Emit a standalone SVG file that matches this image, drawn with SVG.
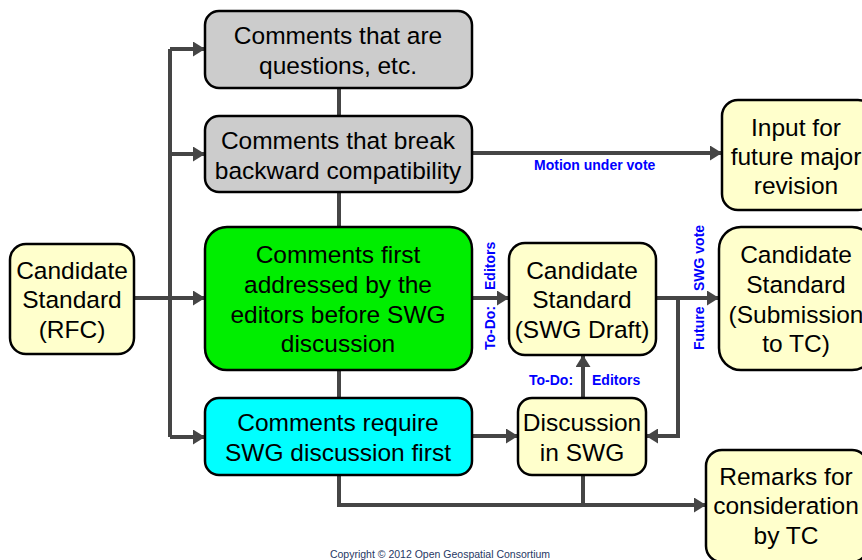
<svg xmlns="http://www.w3.org/2000/svg" width="862" height="560" viewBox="0 0 862 560">
<defs>
<marker id="ah" markerUnits="userSpaceOnUse" viewBox="0 0 12 15" refX="11" refY="7.5" markerWidth="12" markerHeight="15" orient="auto">
<path d="M0,0 L12,7.5 L0,15 z" fill="#454545"/>
</marker>
</defs>
<style>
.box{stroke:#000;stroke-width:2.5}
.gray{fill:#cccccc}
.yel{fill:#ffffcc}
.t{font-family:"Liberation Sans",Arial,sans-serif;font-size:24.5px;fill:#000;text-anchor:middle}
.lbl{font-family:"Liberation Sans",Arial,sans-serif;font-size:14px;font-weight:bold;fill:#0000ff}
.c{fill:none;stroke:#454545;stroke-width:4}
.ca{fill:none;stroke:#454545;stroke-width:4;marker-end:url(#ah)}
</style>
<rect width="862" height="560" fill="#fff"/>
<g id="connectors">
<path class="c" d="M170,49 V437"/>
<path class="ca" d="M170,49 H204"/>
<path class="ca" d="M170,154 H204"/>
<path class="ca" d="M134,298 H204"/>
<path class="ca" d="M170,437 H204"/>
<path class="c" d="M339,88 V116 M339,192 V227 M339,370 V398"/>
<path class="ca" d="M339,475 V505 H705"/>
<path class="c" d="M583,475 V505"/>
<path class="ca" d="M472,153 H721"/>
<path class="ca" d="M472,298 H508"/>
<path class="ca" d="M656,298 H718"/>
<path class="ca" d="M678,298 V436 H647"/>
<path class="ca" d="M472,436 H517"/>
<path class="ca" d="M583,398 V356"/>
<text class="lbl" x="534" y="170">Motion under vote</text>
<text class="lbl" transform="translate(495,290) rotate(-90)">Editors</text>
<text class="lbl" transform="translate(495,350) rotate(-90)">To-Do:</text>
<text class="lbl" transform="translate(704,291) rotate(-90)">SWG vote</text>
<text class="lbl" transform="translate(704,350) rotate(-90)">Future</text>
<text class="lbl" x="529" y="385">To-Do:</text>
<text class="lbl" x="592" y="385">Editors</text>
</g>
<g id="n-questions">
<rect class="box gray" x="205" y="11" width="267" height="77" rx="14"/>
<text class="t" x="338" y="44">Comments that are</text>
<text class="t" x="338" y="74">questions, etc.</text>
</g>
<g id="n-break">
<rect class="box gray" x="205" y="116" width="267" height="76" rx="14"/>
<text class="t" x="338" y="149">Comments that break</text>
<text class="t" x="338" y="179">backward compatibility</text>
</g>
<g id="n-editors">
<rect class="box" fill="#00ee00" x="205" y="227" width="267" height="143" rx="22"/>
<text class="t" x="338" y="263">Comments first</text>
<text class="t" x="338" y="293">addressed by the</text>
<text class="t" x="338" y="323">editors before SWG</text>
<text class="t" x="338" y="352">discussion</text>
</g>
<g id="n-swgdisc">
<rect class="box" fill="#00ffff" x="205" y="398" width="267" height="77" rx="14"/>
<text class="t" x="338" y="431">Comments require</text>
<text class="t" x="338" y="461">SWG discussion first</text>
</g>
<g id="n-rfc">
<rect class="box yel" x="10" y="244" width="124" height="110" rx="16"/>
<text class="t" x="72" y="279">Candidate</text>
<text class="t" x="72" y="308">Standard</text>
<text class="t" x="72" y="338">(RFC)</text>
</g>
<g id="n-draft">
<rect class="box yel" x="509" y="243" width="147" height="112" rx="16"/>
<text class="t" x="582" y="279">Candidate</text>
<text class="t" x="582" y="308">Standard</text>
<text class="t" x="582" y="338">(SWG Draft)</text>
</g>
<g id="n-discussion">
<rect class="box yel" x="518" y="398" width="128" height="77" rx="14"/>
<text class="t" x="582" y="431">Discussion</text>
<text class="t" x="582" y="461">in SWG</text>
</g>
<g id="n-input">
<rect class="box yel" x="722" y="100" width="152" height="110" rx="16"/>
<text class="t" x="796" y="136">Input for</text>
<text class="t" x="796" y="165">future major</text>
<text class="t" x="796" y="194">revision</text>
</g>
<g id="n-submission">
<rect class="box yel" x="719" y="227" width="155" height="143" rx="22"/>
<text class="t" x="796" y="263">Candidate</text>
<text class="t" x="796" y="293">Standard</text>
<text class="t" x="796" y="323">(Submission</text>
<text class="t" x="796" y="352">to TC)</text>
</g>
<g id="n-remarks">
<rect class="box yel" x="706" y="450" width="162" height="112" rx="16"/>
<text class="t" x="786" y="485">Remarks for</text>
<text class="t" x="786" y="514">consideration</text>
<text class="t" x="786" y="544">by TC</text>
</g>
<text x="440" y="558" font-family="'Liberation Sans',Arial,sans-serif" font-size="10.5" fill="#1f3864" text-anchor="middle">Copyright © 2012 Open Geospatial Consortium</text>
</svg>
